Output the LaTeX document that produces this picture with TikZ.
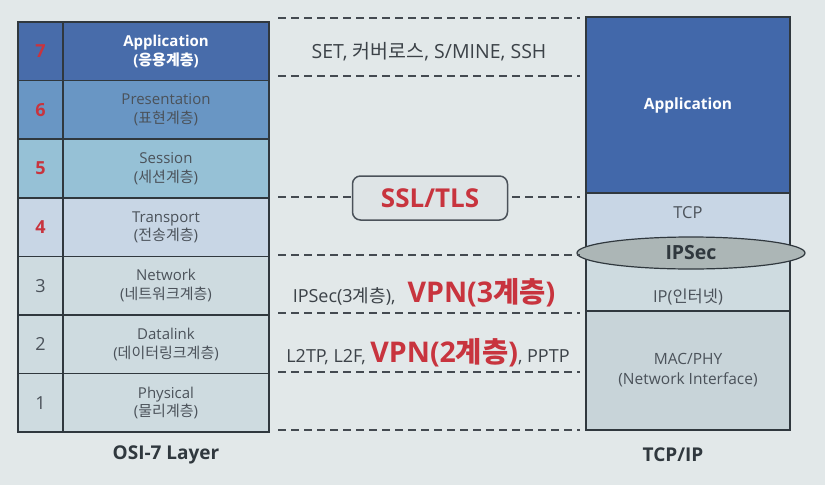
\documentclass[tikz,border=0pt]{standalone}
\usepackage{fontspec}
\setmainfont{Open Sans}
\newfontfamily\kr{Noto Sans CJK KR}
\usepackage{xcolor}
\usetikzlibrary{shapes.geometric,positioning}
\definecolor{bggray}   {RGB}{226,232,233}
\definecolor{appblue}  {RGB}{72,108,170}
\definecolor{presblue} {RGB}{105,150,196}
\definecolor{sessblue} {RGB}{150,193,214}
\definecolor{transblue}{RGB}{200,214,229}
\definecolor{lowgray}  {RGB}{206,219,224}
\definecolor{tcpblue}  {RGB}{66,104,170}
\definecolor{linegray} {RGB}{48,56,62}
\definecolor{txtgray}  {RGB}{75,82,90}
\definecolor{vpnred}   {RGB}{200,52,62}
\definecolor{ipsecgray}{RGB}{172,182,182}
\definecolor{sslfill}  {RGB}{222,228,230}
\newcommand{\vpnfont}{\color{vpnred}\bfseries\fontsize{28.5}{30}\selectfont}
\tikzset{
  cell/.style    ={draw=linegray, line width=1.5pt, outer sep=0pt, inner sep=0pt,
                   minimum height=58.6pt, align=center, text=txtgray,
                   font=\fontsize{15}{18.5}\selectfont},
  numcell/.style ={cell, minimum width=45pt, font=\fontsize{18}{20}\selectfont},
  rednum/.style  ={numcell, text=vpnred, font=\bfseries\fontsize{18}{20}\selectfont},
  namecell/.style={cell, minimum width=206pt},
  tcpcell/.style ={cell, minimum width=204pt},
  sepline/.style ={draw=txtgray!90!black, line width=1.6pt, dash pattern=on 8pt off 5pt},
  sslbox/.style  ={draw=txtgray, line width=1.5pt, rounded corners=8pt, fill=sslfill,
                   minimum width=155pt, minimum height=44pt, text=vpnred,
                   font=\bfseries\fontsize{26}{28}\selectfont},
  prottxt/.style ={text=txtgray!80!black, font=\fontsize{18}{20}\selectfont, inner sep=0pt},
  ipsecnode/.style={ellipse, draw=linegray, line width=1.2pt, fill=ipsecgray,
                   minimum width=228pt, minimum height=32pt, inner sep=0pt,
                   text=linegray, font=\bfseries\fontsize{19.5}{22}\selectfont},
  caption/.style ={text=linegray, font=\bfseries\fontsize{19}{22}\selectfont},
  tcptxt/.style  ={text=txtgray, font=\fontsize{16.5}{20}\selectfont},
}
\begin{document}
\begin{tikzpicture}[x=1pt,y=-1pt]
  \useasboundingbox[fill=bggray] (0,0) rectangle (825,485);
  %% OSI 7 layer table
  \node[rednum, fill=appblue] (n7) at (40.5,51.3) {7};
  \node[namecell, fill=appblue, right=0pt of n7, text=white,
        font=\bfseries\fontsize{15}{18.5}\selectfont] (l7) {Application\\({\kr 응용계층})};
  \node[rednum, fill=presblue, below=0pt of n7] (n6) {6};
  \node[namecell, fill=presblue, right=0pt of n6] (l6) {Presentation\\({\kr 표현계층})};
  \node[rednum, fill=sessblue, below=0pt of n6] (n5) {5};
  \node[namecell, fill=sessblue, right=0pt of n5] (l5) {Session\\({\kr 세션계층})};
  \node[rednum, fill=transblue, below=0pt of n5] (n4) {4};
  \node[namecell, fill=transblue, right=0pt of n4] (l4) {Transport\\({\kr 전송계층})};
  \node[numcell, fill=lowgray, below=0pt of n4] (n3) {3};
  \node[namecell, fill=lowgray, right=0pt of n3] (l3) {Network\\({\kr 네트워크계층})};
  \node[numcell, fill=lowgray, below=0pt of n3] (n2) {2};
  \node[namecell, fill=lowgray, right=0pt of n2] (l2) {Datalink\\({\kr 데이터링크계층})};
  \node[numcell, fill=lowgray, below=0pt of n2] (n1) {1};
  \node[namecell, fill=lowgray, right=0pt of n1] (l1) {Physical\\({\kr 물리계층})};
  \node[caption] (osilbl) at (166,455) {OSI-7 Layer};

  %% TCP/IP stack
  \node[tcpcell, fill=tcpblue, minimum height=176pt, text=white,
        font=\bfseries\fontsize{15.5}{18}\selectfont] (tapp) at (688,105) {Application};
  \node[tcpcell, fill=transblue, minimum height=60pt, below=0pt of tapp] (ttcp) {};
  \node[tcpcell, fill=lowgray, minimum height=58pt, below=0pt of ttcp] (tip) {};
  \node[tcpcell, fill=lowgray!97!black, minimum height=119pt, below=0pt of tip,
        font=\fontsize{15.5}{20}\selectfont] (tmac) {MAC/PHY\\(Network Interface)};
  \node[tcptxt] at ([yshift=10pt]ttcp.center) {TCP};
  \node[tcptxt] at ([yshift=-15pt]tip.center) {IP({\kr 인터넷})};
  \node[ipsecnode] (ipsec) at ([xshift=3pt]ttcp.south) {IPSec};
  \node[caption] (tcplbl) at (673,455) {TCP/IP};

  %% protocols in between
  \foreach \y in {18,76,197,255,313,372,430}
    \draw[sepline] (278,\y) -- (580,\y);
  \node[prottxt, font=\fontsize{19.5}{22}\selectfont] (applbl) at (429,52) {SET, {\kr 커버로스}, S/MINE, SSH};
  \node[sslbox] (ssl) at (430,198) {SSL/TLS};
  \node[prottxt] (netlbl) at (424,293) {IPSec(3{\kr 계층}),\hspace{12pt}{\vpnfont VPN(3{\kr 계층})}};
  \node[prottxt] (dllbl) at (428,353) {L2TP, L2F, {\vpnfont VPN(2{\kr 계층})}, PPTP};
\end{tikzpicture}
\end{document}
